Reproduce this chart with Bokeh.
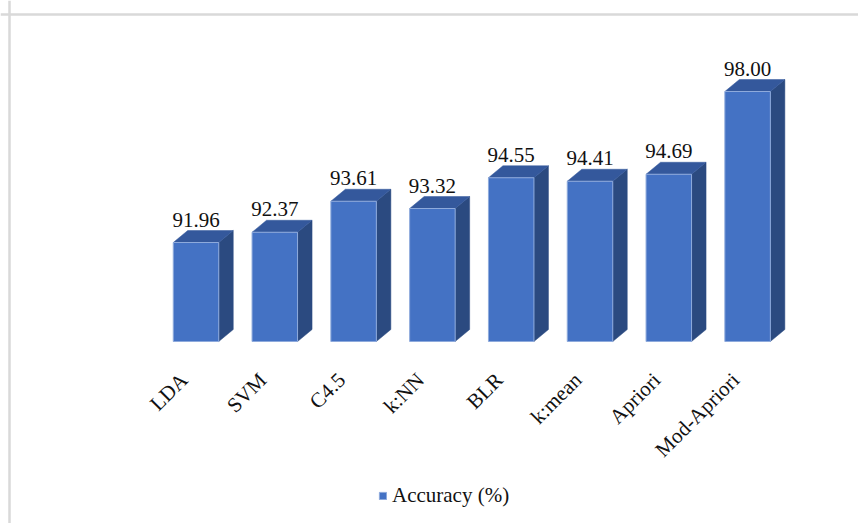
import math

from bokeh.embed import file_html
from bokeh.models import ColumnDataSource, Legend, LegendItem, Range1d, Span
from bokeh.plotting import figure
from bokeh.resources import INLINE

# Classifier accuracy (%)
methods = ["LDA", "SVM", "C4.5", "k:NN", "BLR", "k:mean", "Apriori", "Mod-Apriori"]
accuracy = [91.96, 92.37, 93.61, 93.32, 94.55, 94.41, 94.69, 98.00]
value_labels = ["91.96", "92.37", "93.61", "93.32", "94.55", "94.41", "94.69", "98.00"]
series_name = "Accuracy (%)"

# Page layout (pixels)
W, H = 858, 523
SLOT = 78.8          # px per category
X0_PX = 195.5        # px of the first category centre
UNIT = 25.0          # px per accuracy point
BASE = 88.0          # value at the floor of the bars
BASE_PX = 341.0      # px of the floor from the top

bar_w = 45.5 / SLOT          # front face width (data units)
dx = 14.5 / SLOT             # depth offset to the right
dy = 12.0 / UNIT             # depth offset upward

x_start = -X0_PX / SLOT
y_end = BASE + BASE_PX / UNIT

p = figure(
    width=W, height=H,
    x_range=Range1d(x_start, x_start + W / SLOT),
    y_range=Range1d(y_end - H / UNIT, y_end),
    output_backend="svg", toolbar_location=None,
    min_border=0, min_border_left=0, min_border_right=0,
    min_border_top=0, min_border_bottom=0,
)
p.axis.visible = False
p.grid.visible = False
p.outline_line_color = None
p.background_fill_color = "white"
p.border_fill_color = "white"

# Chart area border (top and left edges)
p.add_layout(Span(location=y_end - 14 / UNIT, dimension="width",
                  line_color="#d9d9d9", line_width=2.5))
p.add_layout(Span(location=x_start + 9 / SLOT, dimension="height",
                  line_color="#d9d9d9", line_width=2.5))

xs = list(range(len(methods)))

# 3-D side and top faces
side_x, side_y, top_x, top_y = [], [], [], []
for i, v in zip(xs, accuracy):
    l, r = i - bar_w / 2, i + bar_w / 2
    side_x.append([r, r + dx, r + dx, r])
    side_y.append([BASE, BASE + dy, v + dy, v])
    top_x.append([l, r, r + dx, l + dx])
    top_y.append([v, v, v + dy, v + dy])

p.patches(side_x, side_y, fill_color="#2b4a80", line_color="#2b4a80", line_width=0.5)
p.patches(top_x, top_y, fill_color="#34589c", line_color="#34589c", line_width=0.5)

src = ColumnDataSource(dict(x=xs, top=accuracy, name=methods, lab=value_labels,
                            base=[BASE] * len(xs)))
front = p.vbar(x="x", top="top", bottom="base", width=bar_w, source=src,
               fill_color="#4472c4", line_color="#8eaadc", line_width=1)

# Value labels above the bars
p.text(x="x", y="top", text="lab", source=src, y_offset=-23,
       text_align="center", text_baseline="alphabetic",
       text_font={"value": "Liberation Serif"}, text_font_size="21px",
       text_color="#111111")

# Rotated category labels below the floor
p.text(x="x", y="base", text="name", source=src, x_offset=-12, y_offset=35,
       angle=math.pi / 4, text_align="right", text_baseline="middle",
       text_font={"value": "Liberation Serif"}, text_font_size="21px",
       text_color="#111111")

legend = Legend(
    items=[LegendItem(label=series_name, renderers=[front])],
    location=(378, 15), orientation="horizontal",
    glyph_width=9, glyph_height=9, label_standoff=5,
    padding=0, margin=0, spacing=0,
    border_line_color=None, background_fill_alpha=0,
    label_text_font="Liberation Serif", label_text_font_size="21px",
    label_text_color="#111111",
)
p.add_layout(legend)

open("out.html", "w").write(file_html(p, INLINE))
